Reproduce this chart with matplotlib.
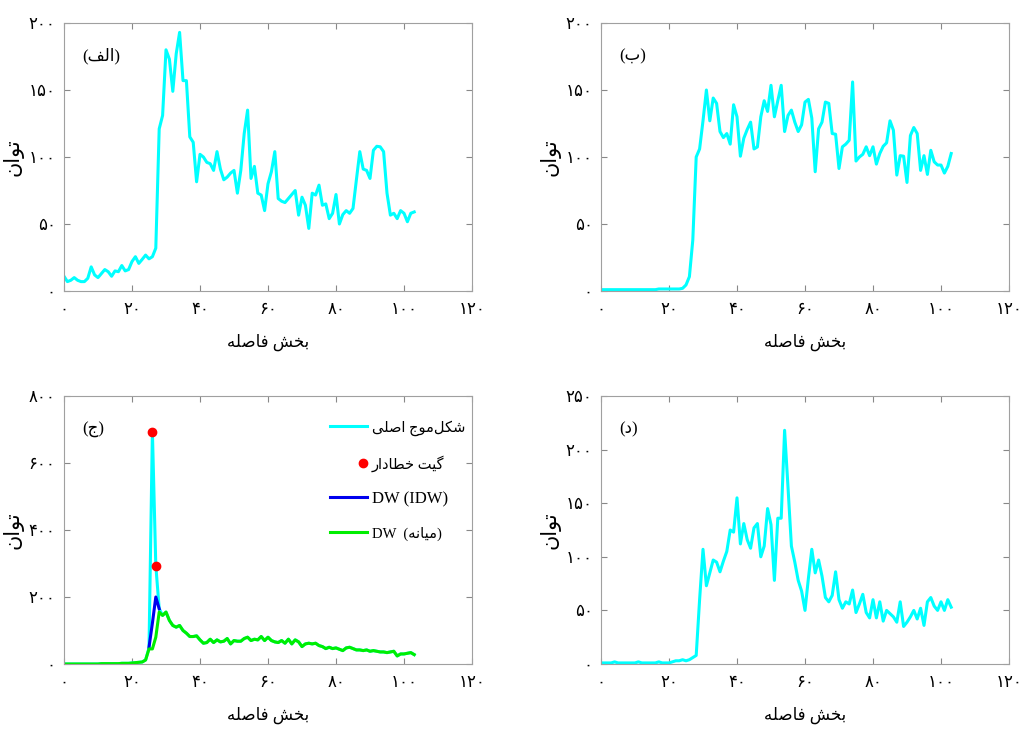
import matplotlib
matplotlib.use('Agg')
import matplotlib.pyplot as plt
from matplotlib.legend_handler import HandlerLine2D
import numpy as np

# --- data ------------------------------------------------------------------
dist = np.arange(104)

power_a = [11, 7, 8, 10, 8, 7, 7, 9.5, 18, 12, 10, 13, 16, 14.4, 11, 15, 14.4, 19, 15, 16,
           22, 25.6, 20.6, 23.6, 26.8, 24, 25.6, 32, 121, 131, 180, 173, 149, 177, 193, 157,
           157, 115, 111, 81.5, 102, 100, 96, 95, 90, 104, 91, 83, 85, 88, 90, 73, 90, 117.5,
           135, 84, 93, 73, 71.6, 60, 80, 89, 104, 69, 67, 66, 69, 72, 75, 56.6, 70, 64, 46.7,
           73, 71.6, 79, 64, 65, 54, 58, 72, 50, 57, 60, 58, 61.6, 83, 104, 91, 90, 84, 105,
           108, 107.6, 104, 73, 56.6, 58, 54, 60, 58, 51.7, 58, 59]

power_b = [1, 1, 1, 1, 1, 1, 1, 1, 1, 1, 1, 1, 1, 1, 1, 1, 1, 1.5, 1.5, 1.5, 1.5, 1.5, 1.5,
           1.5, 2, 4.5, 10.7, 38, 100, 106, 127, 150, 127, 144, 140, 119, 114.5, 117.5, 109.6,
           139, 130, 100.6, 114, 120.5, 126, 106, 107.5, 130, 142, 134, 153.5, 130, 142, 153.5,
           119, 131, 135, 126, 119, 124, 141, 143, 129, 89, 121, 126, 141, 140, 117.5, 117,
           91.4, 107.6, 109.6, 112.5, 156, 97, 100, 102, 107.6, 101, 107.6, 94.7, 102.6, 108,
           110.6, 127, 120, 86.5, 101, 100.6, 81, 116, 122, 117.5, 90, 101, 87, 105, 96.4, 94,
           94, 88, 93, 102.6]

mean_c = [0, 0, 0, 0, 0, 0, 0, 0, 0, 0, 0, 1, 1, 1, 1, 1, 1, 2, 2, 2, 3, 4, 5, 6, 12, 45,
          45, 80, 155, 145, 155, 130, 115, 110, 115, 100, 92, 82, 82, 84, 72, 62, 64, 74, 64,
          72, 66, 68, 76, 60, 70, 68, 68, 76, 80, 70, 74, 72, 82, 70, 80, 70, 66, 64, 70, 62,
          74, 60, 72, 66, 52, 60, 62, 60, 62, 55, 52, 46, 50, 46, 48, 44, 40, 48, 50, 46, 42,
          42, 40, 42, 38, 40, 38, 36, 36, 34, 36, 38, 24, 30, 30, 32, 34, 28]
main_c = list(mean_c)
main_c[25:29] = [48, 694, 294, 165]
idw_x = [25, 26, 27, 28]
idw_c = [50, 122, 200, 165]
gate_x = [26, 27]
gate_c = [694, 294]

power_d = [1, 1, 1, 1, 2, 1, 1, 1, 1, 1, 1, 2, 1, 1, 1, 1, 1, 2, 1, 1, 1, 2, 3, 3, 4, 3,
           4, 6, 8, 60, 107, 73, 85, 97, 95, 86, 96, 105, 125, 123, 155, 112, 131, 116, 108,
           127, 131, 100, 110, 145, 130, 78, 136, 136, 218, 165, 110, 95, 78, 68, 50, 80, 107,
           85, 97, 82, 62, 58, 64, 86, 60, 52, 58, 56, 69, 48, 56, 65, 48, 43, 60, 43, 58, 40,
           50, 47, 44, 39, 58, 35, 39, 44, 50, 42, 52, 36, 58, 62, 54, 50, 58, 50, 60, 53]

x_ticks = [0, 20, 40, 60, 80, 100, 120]
y_ticks_a = [0, 50, 100, 150, 200]
y_ticks_c = [0, 200, 400, 600, 800]
y_ticks_d = [0, 50, 100, 150, 200, 250]

# --- minimal persian shaping (matplotlib has no RTL / joining support) -----
FORMS = {
    'ا': ('\uFE8D', '\uFE8E', None, None),
    'ب': ('\uFE8F', '\uFE90', '\uFE91', '\uFE92'),
    'ت': ('\uFE95', '\uFE96', '\uFE97', '\uFE98'),
    'ج': ('\uFE9D', '\uFE9E', '\uFE9F', '\uFEA0'),
    'خ': ('\uFEA5', '\uFEA6', '\uFEA7', '\uFEA8'),
    'د': ('\uFEA9', '\uFEAA', None, None),
    'ر': ('\uFEAD', '\uFEAE', None, None),
    'ش': ('\uFEB5', '\uFEB6', '\uFEB7', '\uFEB8'),
    'ص': ('\uFEB9', '\uFEBA', '\uFEBB', '\uFEBC'),
    'ط': ('\uFEC1', '\uFEC2', '\uFEC3', '\uFEC4'),
    'ف': ('\uFED1', '\uFED2', '\uFED3', '\uFED4'),
    'ک': ('\uFB8E', '\uFB8F', '\uFB90', '\uFB91'),
    'گ': ('\uFB92', '\uFB93', '\uFB94', '\uFB95'),
    'ل': ('\uFEDD', '\uFEDE', '\uFEDF', '\uFEE0'),
    'م': ('\uFEE1', '\uFEE2', '\uFEE3', '\uFEE4'),
    'ن': ('\uFEE5', '\uFEE6', '\uFEE7', '\uFEE8'),
    'ه': ('\uFEE9', '\uFEEA', '\uFEEB', '\uFEEC'),
    'و': ('\uFEED', '\uFEEE', None, None),
    'ی': ('\uFBFC', '\uFBFD', '\uFBFE', '\uFBFF'),
}


def fa(s):
    out = []
    for i, c in enumerate(s):
        if c == '\u200c':
            continue
        if c not in FORMS:
            out.append(c)
            continue
        iso, fin, ini, med = FORMS[c]
        prev = s[i - 1] if i > 0 else ''
        nxt = s[i + 1] if i + 1 < len(s) else ''
        jp = prev in FORMS and FORMS[prev][2] is not None
        jn = ini is not None and nxt in FORMS
        if jp and jn:
            out.append(med)
        elif jp:
            out.append(fin)
        elif jn:
            out.append(ini)
        else:
            out.append(iso)
    return ''.join(out)[::-1]


DIGITS = str.maketrans('0123456789', '۰۱۲۳۴۵۶۷۸۹')


def fa_num(v):
    return str(v).translate(DIGITS)


class MarkerAtEnd(HandlerLine2D):
    # put the legend dot next to the text, like the original
    def get_xdata(self, legend, xdescent, ydescent, width, height, fontsize):
        m = -xdescent + width - 3
        return [m - 1, m + 1], [m]


plt.rcParams['font.family'] = ['Liberation Serif', 'DejaVu Sans']

CYAN = '#00FFFF'
LW = 2.2

fig = plt.figure(figsize=(10.24, 7.29), dpi=100)
w, h = 408 / 1024, 268 / 729
ax_a = fig.add_axes([64 / 1024, 1 - 291 / 729, w, h])
ax_b = fig.add_axes([601 / 1024, 1 - 291 / 729, w, h])
ax_c = fig.add_axes([64 / 1024, 1 - 664 / 729, w, h])
ax_d = fig.add_axes([601 / 1024, 1 - 664 / 729, w, h])

ax_a.plot(dist, power_a, color=CYAN, lw=LW)
ax_b.plot(dist, power_b, color=CYAN, lw=LW)
ax_d.plot(dist, power_d, color=CYAN, lw=LW)

ax_c.plot(dist, main_c, color=CYAN, lw=LW, label=fa('شکل\u200cموج اصلی'))
gate, = ax_c.plot(gate_x, gate_c, 'o', color='red', ms=6, label=fa('گیت خطادار'))
ax_c.plot(idw_x, idw_c, color='#0000EE', lw=LW, label='DW (IDW)')
ax_c.plot(dist, mean_c, color='#00EE00', lw=LW, label='DW  (' + fa('میانه') + ')')

panels = [(ax_a, y_ticks_a, '(' + fa('الف') + ')'),
          (ax_b, y_ticks_a, '(' + fa('ب') + ')'),
          (ax_c, y_ticks_c, '(' + fa('ج') + ')'),
          (ax_d, y_ticks_d, '(' + fa('د') + ')')]

for ax, yt, tag in panels:
    ax.set_xlim(0, 120)
    ax.set_ylim(yt[0], yt[-1])
    ax.set_xticks(x_ticks)
    ax.set_xticklabels([fa_num(v) for v in x_ticks])
    ax.set_yticks(yt)
    ax.set_yticklabels([fa_num(v) for v in yt])
    ax.tick_params(direction='in', top=True, right=True, length=4, color='#888888',
                   labelsize=12)
    ax.tick_params(axis='x', pad=8)
    ax.tick_params(axis='y', pad=6)
    for sp in ax.spines.values():
        sp.set_color('#a0a0a0')
    ax.set_xlabel(fa('بخش فاصله'), fontsize=12, labelpad=11)
    ax.set_ylabel(fa('توان'), fontsize=15, labelpad=4)
    ax.text(0.045, 0.875, tag, transform=ax.transAxes, ha='left', va='center', fontsize=12)

leg = ax_c.legend(loc='upper left', bbox_to_anchor=(0.652, 0.91), frameon=False, fontsize=12,
                  borderpad=0, borderaxespad=0, handlelength=2.2, handletextpad=0.3,
                  labelspacing=1.15, numpoints=1, handler_map={gate: MarkerAtEnd()})
for t in leg.get_texts()[:2] + leg.get_texts()[3:]:
    t.set_fontsize(10.5)

fig.savefig('out.png', dpi=100)
